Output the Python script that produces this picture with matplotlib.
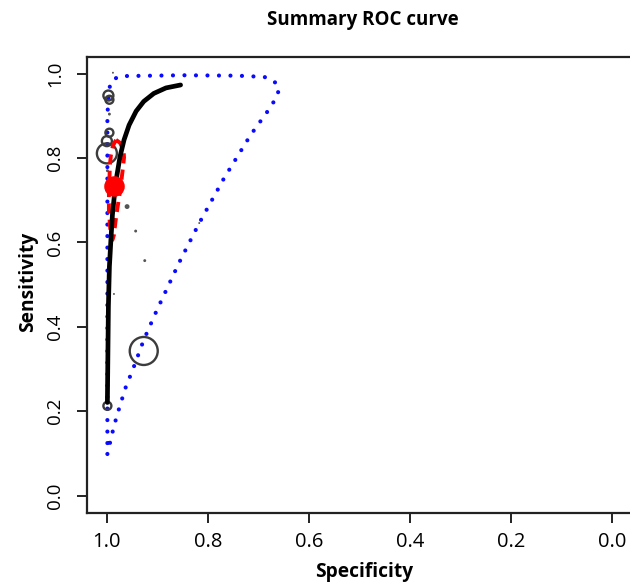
import numpy as np
import matplotlib
matplotlib.use('Agg')
import matplotlib.pyplot as plt

plt.rcParams['font.family'] = ['Open Sans', 'DejaVu Sans']

# summary ROC curve (specificity, sensitivity)
sroc_spec = [0.999, 0.997, 0.995, 0.992, 0.989, 0.985, 0.980, 0.974, 0.966,
             0.956, 0.942, 0.927, 0.907, 0.883, 0.854]
sroc_sens = [0.221, 0.449, 0.543, 0.607, 0.666, 0.713, 0.760, 0.803, 0.843,
             0.878, 0.911, 0.934, 0.953, 0.966, 0.973]

# summary point
summ_spec = 0.986
summ_sens = 0.733

# 95% confidence region
conf_spec = [0.982, 0.974, 0.967, 0.966, 0.968, 0.971, 0.975, 0.979, 0.983, 0.986,
             0.989, 0.992, 0.994, 0.996, 0.996, 0.995, 0.994, 0.992, 0.988, 0.982]
conf_sens = [0.843, 0.836, 0.819, 0.801, 0.779, 0.749, 0.713, 0.682, 0.649, 0.618,
             0.606, 0.616, 0.642, 0.677, 0.713, 0.748, 0.784, 0.807, 0.829, 0.843]

# 95% prediction region
pred_spec = [0.999, 0.986, 0.975, 0.963, 0.948, 0.927, 0.902, 0.875, 0.857, 0.817,
             0.768, 0.715, 0.682, 0.662, 0.659, 0.670, 0.688, 0.740, 0.850, 0.975,
             0.991, 0.996, 0.999, 0.999]
pred_sens = [0.099, 0.165, 0.210, 0.256, 0.301, 0.369, 0.437, 0.506, 0.552, 0.646,
             0.752, 0.855, 0.910, 0.947, 0.969, 0.983, 0.992, 0.995, 0.996, 0.994,
             0.983, 0.961, 0.900, 0.099]

# individual studies
study_spec = [0.988, 0.997, 0.995, 0.995, 0.995, 1.000, 1.000, 0.999, 0.960,
              0.943, 0.925, 0.986, 0.927, 0.999, 0.817]
study_sens = [1.002, 0.948, 0.938, 0.904, 0.860, 0.840, 0.811, 0.770, 0.685,
              0.627, 0.557, 0.478, 0.343, 0.213, 0.646]
study_weight = [1.0, 5.0, 4.0, 1.5, 4.0, 5.0, 10.0, 1.5, 2.5,
                1.5, 1.5, 1.0, 14.0, 4.0, 1.0]

fig = plt.figure(figsize=(6.3, 5.82), dpi=100)
ax = fig.add_axes([0.1376, 0.1191, 0.8654, 0.7835])

ax.plot(pred_spec, pred_sens, color='#0a0aff', lw=3.0,
        linestyle=(0, (0.01, 2.75)), dash_capstyle='round')

w = np.array(study_weight)
big = w >= 3
ax.scatter(np.array(study_spec)[big], np.array(study_sens)[big],
           s=(1.44 * w[big]) ** 2, facecolors='none', edgecolors='#3c3c3c',
           linewidths=1.7, zorder=3)
ax.scatter(np.array(study_spec)[~big], np.array(study_sens)[~big],
           s=(1.4 * w[~big]) ** 2, color='#555555', linewidths=0, zorder=3)

ax.plot(conf_spec, conf_sens, color='red', lw=2.8,
        linestyle=(0, (2.6, 1.6)), zorder=4)
ax.plot(sroc_spec, sroc_sens, color='black', lw=3.4, zorder=5,
        solid_capstyle='round')
ax.scatter([summ_spec], [summ_sens], s=190, color='red', zorder=6)

ax.set_xlim(1.04, -0.04)
ax.set_ylim(-0.04, 1.04)
ax.set_xticks([1.0, 0.8, 0.6, 0.4, 0.2, 0.0])
ax.set_yticks([0.0, 0.2, 0.4, 0.6, 0.8, 1.0])
ax.set_xticklabels(['1.0', '0.8', '0.6', '0.4', '0.2', '0.0'], fontsize=14.5)
ax.set_yticklabels(['0.0', '0.2', '0.4', '0.6', '0.8', '1.0'], fontsize=13.5,
                   rotation=90, va='center')
ax.tick_params(axis='both', length=7.2, width=1.4, color='#222222')
ax.tick_params(axis='x', pad=7)
ax.tick_params(axis='y', pad=9)
for sp in ax.spines.values():
    sp.set_linewidth(1.6)
    sp.set_color('#222222')

fig.text(0.576, 0.9656, 'Summary ROC curve', ha='center', va='center',
         fontsize=13.5, fontweight='bold')
fig.text(0.578, 0.017, 'Specificity', ha='center', va='center',
         fontsize=13.8, fontweight='bold')
fig.text(0.044, 0.515, 'Sensitivity', ha='center', va='center',
         fontsize=13.8, fontweight='bold', rotation=90)

fig.savefig('out.png', dpi=100)
